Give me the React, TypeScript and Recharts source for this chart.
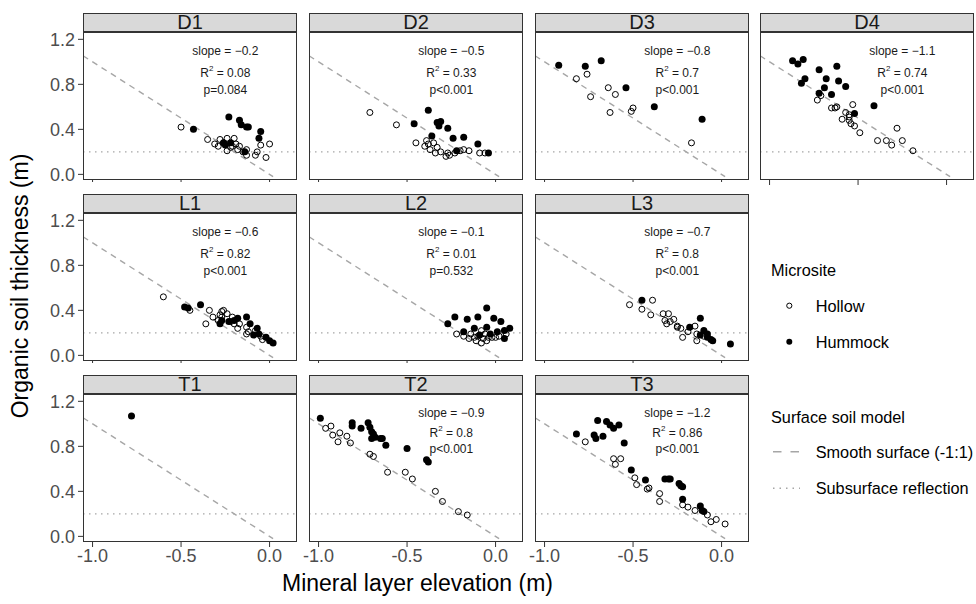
import React from 'react';
import { ScatterChart, Scatter, XAxis, YAxis, ReferenceLine } from 'recharts';

// ---------------- data ----------------
const panelNames = ['D1', 'D2', 'D3', 'D4', 'L1', 'L2', 'L3', 'T1', 'T2', 'T3'];
const slopes = ['−0.2', '−0.5', '−0.8', '−1.1', '−0.6', '−0.1', '−0.7', '', '−0.9', '−1.2'];
const rSquared = ['0.08', '0.33', '0.7', '0.74', '0.82', '0.01', '0.8', '', '0.8', '0.86'];
const pValues = ['p=0.084', 'p<0.001', 'p<0.001', 'p<0.001', 'p<0.001', 'p=0.532', 'p<0.001', '', 'p<0.001', 'p<0.001'];
const xTicks = [-1, -0.5, 0];
const yTicks = [0, 0.4, 0.8, 1.2];
const subsurfaceDepth = 0.2;

const d1Hollow = [[-0.5, 0.42], [-0.35, 0.31], [-0.31, 0.27], [-0.28, 0.31], [-0.24, 0.32], [-0.2, 0.32], [-0.26, 0.28], [-0.29, 0.25], [-0.22, 0.24], [-0.21, 0.25], [-0.19, 0.27], [-0.17, 0.25], [-0.24, 0.21], [-0.18, 0.22], [-0.15, 0.2], [-0.13, 0.22], [-0.07, 0.2], [-0.08, 0.17], [-0.05, 0.26], [0.0, 0.27], [-0.02, 0.15], [-0.13, 0.17]];
const d1Hummock = [[-0.43, 0.4], [-0.23, 0.51], [-0.17, 0.48], [-0.16, 0.44], [-0.13, 0.42], [-0.12, 0.42], [-0.05, 0.38], [-0.06, 0.32], [-0.26, 0.28], [-0.22, 0.28], [-0.14, 0.2], [-0.25, 0.26]];
const d2Hollow = [[-0.71, 0.55], [-0.56, 0.44], [-0.45, 0.28], [-0.39, 0.3], [-0.38, 0.27], [-0.4, 0.25], [-0.37, 0.22], [-0.33, 0.24], [-0.31, 0.2], [-0.28, 0.16], [-0.26, 0.17], [-0.23, 0.19], [-0.2, 0.21], [-0.18, 0.22], [-0.15, 0.21], [-0.09, 0.19], [-0.06, 0.19], [-0.35, 0.28], [-0.27, 0.19], [-0.34, 0.19]];
const d2Hummock = [[-0.46, 0.45], [-0.38, 0.57], [-0.33, 0.46], [-0.31, 0.47], [-0.32, 0.43], [-0.27, 0.41], [-0.36, 0.34], [-0.24, 0.32], [-0.18, 0.33], [-0.1, 0.27], [-0.04, 0.19], [-0.22, 0.21]];
const d3Hollow = [[-0.82, 0.85], [-0.76, 0.89], [-0.74, 0.69], [-0.64, 0.77], [-0.6, 0.71], [-0.63, 0.55], [-0.51, 0.56], [-0.5, 0.59], [-0.17, 0.28]];
const d3Hummock = [[-0.92, 0.97], [-0.77, 0.96], [-0.68, 1.01], [-0.54, 0.77], [-0.38, 0.6], [-0.11, 0.49]];
const d4Hollow = [[-0.73, 0.66], [-0.71, 0.7], [-0.65, 0.59], [-0.63, 0.59], [-0.62, 0.6], [-0.57, 0.55], [-0.55, 0.53], [-0.53, 0.62], [-0.59, 0.49], [-0.55, 0.48], [-0.54, 0.45], [-0.52, 0.43], [-0.49, 0.37], [-0.55, 0.51], [-0.39, 0.3], [-0.34, 0.3], [-0.31, 0.26], [-0.28, 0.41], [-0.25, 0.3], [-0.19, 0.21]];
const d4Hummock = [[-0.87, 1.01], [-0.84, 0.98], [-0.81, 1.02], [-0.72, 0.93], [-0.62, 0.96], [-0.68, 0.85], [-0.8, 0.85], [-0.82, 0.81], [-0.69, 0.77], [-0.61, 0.83], [-0.57, 0.78], [-0.65, 0.71], [-0.72, 0.72], [-0.41, 0.61], [-0.52, 0.54]];
const l1Hollow = [[-0.6, 0.52], [-0.45, 0.4], [-0.34, 0.4], [-0.36, 0.28], [-0.32, 0.34], [-0.28, 0.36], [-0.27, 0.39], [-0.26, 0.4], [-0.29, 0.31], [-0.22, 0.3], [-0.21, 0.34], [-0.2, 0.28], [-0.18, 0.24], [-0.17, 0.28], [-0.13, 0.25], [-0.12, 0.21], [-0.13, 0.19], [-0.05, 0.17], [-0.04, 0.14], [-0.08, 0.22], [-0.27, 0.34], [-0.24, 0.37]];
const l1Hummock = [[-0.48, 0.43], [-0.46, 0.42], [-0.39, 0.45], [-0.18, 0.33], [-0.13, 0.34], [-0.23, 0.3], [-0.28, 0.28], [-0.27, 0.31], [-0.11, 0.28], [-0.07, 0.24], [-0.06, 0.19], [-0.09, 0.18], [-0.02, 0.16], [0.0, 0.13], [0.02, 0.11], [-0.2, 0.31]];
const l2Hollow = [[-0.22, 0.19], [-0.18, 0.17], [-0.15, 0.15], [-0.12, 0.16], [-0.1, 0.17], [-0.08, 0.22], [-0.07, 0.15], [-0.05, 0.13], [-0.02, 0.16], [0.0, 0.16], [-0.11, 0.13], [-0.08, 0.11], [0.02, 0.17], [0.06, 0.19], [-0.14, 0.19], [-0.06, 0.19], [-0.04, 0.16]];
const l2Hummock = [[-0.27, 0.28], [-0.23, 0.34], [-0.16, 0.32], [-0.1, 0.34], [-0.05, 0.42], [-0.12, 0.24], [-0.05, 0.25], [-0.01, 0.33], [0.03, 0.3], [0.05, 0.22], [0.08, 0.24], [0.01, 0.21], [0.05, 0.15], [-0.18, 0.21], [-0.09, 0.18], [-0.03, 0.19]];
const l3Hollow = [[-0.52, 0.45], [-0.45, 0.41], [-0.39, 0.49], [-0.4, 0.36], [-0.33, 0.37], [-0.3, 0.37], [-0.32, 0.31], [-0.29, 0.3], [-0.27, 0.32], [-0.31, 0.28], [-0.25, 0.26], [-0.23, 0.24], [-0.22, 0.16], [-0.19, 0.21], [-0.15, 0.26], [-0.14, 0.19], [-0.14, 0.13], [-0.1, 0.17], [-0.25, 0.25]];
const l3Hummock = [[-0.45, 0.49], [-0.12, 0.33], [-0.18, 0.25], [-0.1, 0.22], [-0.12, 0.18], [-0.08, 0.16], [-0.06, 0.14], [-0.05, 0.13], [0.05, 0.1], [-0.08, 0.19]];
const t1Hollow: number[][] = [];
const t1Hummock = [[-0.78, 1.07]];
const t2Hollow = [[-0.96, 0.96], [-0.93, 0.98], [-0.92, 0.9], [-0.89, 0.84], [-0.88, 0.92], [-0.84, 0.89], [-0.82, 0.83], [-0.71, 0.73], [-0.69, 0.71], [-0.61, 0.57], [-0.51, 0.57], [-0.47, 0.51], [-0.34, 0.4], [-0.3, 0.31], [-0.21, 0.22], [-0.16, 0.19]];
const t2Hummock = [[-0.99, 1.05], [-0.81, 1.01], [-0.81, 0.98], [-0.76, 0.96], [-0.72, 1.01], [-0.71, 0.97], [-0.7, 0.93], [-0.7, 0.87], [-0.68, 0.88], [-0.65, 0.87], [-0.64, 0.87], [-0.62, 0.81], [-0.5, 0.78], [-0.39, 0.68], [-0.38, 0.66], [-0.69, 0.91]];
const t3Hollow = [[-0.77, 0.84], [-0.61, 0.69], [-0.57, 0.69], [-0.6, 0.64], [-0.49, 0.52], [-0.48, 0.46], [-0.42, 0.42], [-0.41, 0.43], [-0.35, 0.38], [-0.35, 0.31], [-0.22, 0.28], [-0.19, 0.26], [-0.15, 0.23], [-0.08, 0.19], [-0.06, 0.13], [-0.03, 0.15], [0.02, 0.11]];
const t3Hummock = [[-0.82, 0.91], [-0.72, 0.9], [-0.7, 1.03], [-0.71, 0.87], [-0.67, 0.89], [-0.65, 1.02], [-0.63, 0.99], [-0.61, 0.96], [-0.58, 0.99], [-0.55, 0.83], [-0.51, 0.59], [-0.43, 0.5], [-0.32, 0.51], [-0.29, 0.51], [-0.3, 0.51], [-0.24, 0.47], [-0.22, 0.44], [-0.23, 0.45], [-0.22, 0.33], [-0.12, 0.27], [-0.11, 0.23], [-0.1, 0.22]];

const hollowSets = [d1Hollow, d2Hollow, d3Hollow, d4Hollow, l1Hollow, l2Hollow, l3Hollow, t1Hollow, t2Hollow, t3Hollow];
const hummockSets = [d1Hummock, d2Hummock, d3Hummock, d4Hummock, l1Hummock, l2Hummock, l3Hummock, t1Hummock, t2Hummock, t3Hummock];

// ---------------- layout / style ----------------
const FONT = '"Liberation Sans", Arial, Helvetica, sans-serif';
const X_DOMAIN: [number, number] = [-1.054, 0.155];
const Y_DOMAIN: [number, number] = [-0.05, 1.265];
const COL_LEFT = [83, 309, 535, 760];
const ROW_TOP = [13, 194, 375];
const PW = 214;
const PH = 148;
const SH = 19;
const M = 12;
const BORDER = '#333333';
const GUIDE = '#A6A6A6';

const toPts = (a: number[][]) => a.map(([x, y]) => ({ x, y }));
const fmt = (v: number) => v.toFixed(1);

const HollowShape = (p: any) => (
  <circle cx={p.cx} cy={p.cy} r={3} fill="none" stroke="#000" strokeWidth={1} />
);
const HummockShape = (p: any) => <circle cx={p.cx} cy={p.cy} r={3.5} fill="#000" />;

const LabelShape = (p: any) => {
  const d = p.payload;
  const common = {
    x: p.cx,
    y: p.cy,
    textAnchor: 'middle' as const,
    dominantBaseline: 'central' as const,
    fontSize: 12,
    fontFamily: FONT,
    fill: '#1a1a1a',
  };
  if (d.kind === 'r2') {
    return (
      <text {...common}>
        <tspan>R</tspan>
        <tspan fontSize={8} dy={-5}>2</tspan>
        <tspan dy={5}>{' = ' + d.text}</tspan>
      </text>
    );
  }
  return <text {...common}>{d.text}</text>;
};

const EmptyTick = () => <g />;

function Panel({ idx }: { idx: number }) {
  const col = idx < 4 ? idx : (idx - 4) % 3;
  const row = idx < 4 ? 0 : idx < 7 ? 1 : 2;
  const isLeft = col === 0;
  const xMode = row === 2 ? 'full' : idx === 3 ? 'ticks' : 'mini';
  const YW = isLeft ? 60 : 0;
  const XH = xMode === 'full' ? 34 : xMode === 'ticks' ? 8 : 3;
  const left = COL_LEFT[col];
  const stripTop = ROW_TOP[row];
  const top = stripTop + SH;
  const lowRow = row === 2;
  const labels = slopes[idx]
    ? [
        { x: -0.25, y: lowRow ? 1.1 : 1.093, kind: 'slope', text: 'slope = ' + slopes[idx] },
        { x: -0.25, y: lowRow ? 0.922 : 0.9, kind: 'r2', text: rSquared[idx] },
        { x: -0.25, y: lowRow ? 0.78 : 0.746, kind: 'p', text: pValues[idx] },
      ]
    : [];
  return (
    <>
      <div
        style={{
          position: 'absolute',
          left,
          top: stripTop,
          width: PW,
          height: SH,
          boxSizing: 'border-box',
          border: `1px solid ${BORDER}`,
          background: '#D9D9D9',
          fontFamily: FONT,
          fontSize: 20,
          lineHeight: `${SH - 2}px`,
          textAlign: 'center',
          color: '#1A1A1A',
        }}
      >
        {panelNames[idx]}
      </div>
      <div style={{ position: 'absolute', left: left - YW - M, top: top - M }}>
        <ScatterChart
          width={PW + YW + 2 * M}
          height={PH + XH + 2 * M}
          margin={{ top: M, right: M, bottom: M, left: M }}
        >
          <XAxis
            type="number"
            dataKey="x"
            domain={X_DOMAIN}
            ticks={xTicks}
            allowDataOverflow
            interval={0}
            height={XH}
            axisLine={false}
            tickSize={xMode === 'mini' ? 2 : 5}
            tickLine={{ stroke: BORDER, strokeWidth: 1 }}
            tickMargin={2}
            tickFormatter={fmt}
            tick={xMode === 'full' ? { fill: '#4D4D4D', fontSize: 18, fontFamily: FONT } : EmptyTick}
          />
          <YAxis
            type="number"
            dataKey="y"
            domain={Y_DOMAIN}
            ticks={yTicks}
            allowDataOverflow
            interval={0}
            width={YW}
            hide={!isLeft}
            axisLine={false}
            tickSize={5}
            tickMargin={3}
            tickLine={{ stroke: BORDER, strokeWidth: 1 }}
            tickFormatter={fmt}
            tick={{ fill: '#4D4D4D', fontSize: 18, fontFamily: FONT }}
          />
          <ReferenceLine
            y={subsurfaceDepth}
            stroke={GUIDE}
            strokeWidth={1.4}
            strokeDasharray="1.5 4.5"
            ifOverflow="hidden"
          />
          <ReferenceLine
            segment={[
              { x: -1.054, y: 1.054 },
              { x: 0.02, y: -0.02 },
            ]}
            stroke={GUIDE}
            strokeWidth={1.4}
            strokeDasharray="6 5"
            ifOverflow="hidden"
          />
          <Scatter data={toPts(hollowSets[idx])} shape={HollowShape} isAnimationActive={false} />
          <Scatter data={toPts(hummockSets[idx])} shape={HummockShape} isAnimationActive={false} />
          {labels.length > 0 && <Scatter data={labels} shape={LabelShape} isAnimationActive={false} />}
        </ScatterChart>
      </div>
      <div
        style={{
          position: 'absolute',
          left,
          top,
          width: PW,
          height: PH,
          boxSizing: 'border-box',
          border: `1px solid ${BORDER}`,
          pointerEvents: 'none',
        }}
      />
    </>
  );
}

export default function App() {
  return (
    <div
      style={{
        position: 'absolute',
        left: 0,
        top: 0,
        width: 976,
        height: 604,
        background: '#fff',
        overflow: 'hidden',
      }}
    >
      {panelNames.map((_, i) => (
        <Panel key={i} idx={i} />
      ))}
      <svg
        width={976}
        height={604}
        style={{ position: 'absolute', left: 0, top: 0, pointerEvents: 'none' }}
        fontFamily={FONT}
      >
        <text x={417.5} y={591} textAnchor="middle" fontSize={23} fill="#000">
          Mineral layer elevation (m)
        </text>
        <text transform="translate(27.5,286) rotate(-90)" textAnchor="middle" fontSize={23} fill="#000">
          Organic soil thickness (m)
        </text>
        <text x={771} y={276} fontSize={16.3} fill="#000">Microsite</text>
        <circle cx={789.3} cy={305.7} r={2.6} fill="none" stroke="#000" strokeWidth={1} />
        <text x={815.7} y={311.7} fontSize={16.3} fill="#000">Hollow</text>
        <circle cx={789.3} cy={341.7} r={3} fill="#000" />
        <text x={815.7} y={347.7} fontSize={16.3} fill="#000">Hummock</text>
        <text x={771} y={422.7} fontSize={16.3} fill="#000">Surface soil model</text>
        <line x1={773} x2={800} y1={451.7} y2={451.7} stroke={GUIDE} strokeWidth={1.4} strokeDasharray="8.5 9" />
        <text x={815.7} y={458.3} fontSize={16.3} fill="#000">Smooth surface (-1:1)</text>
        <line x1={773} x2={800} y1={488.3} y2={488.3} stroke={GUIDE} strokeWidth={1.4} strokeDasharray="1.5 5" />
        <text x={815.7} y={494} fontSize={16.3} fill="#000">Subsurface reflection</text>
      </svg>
    </div>
  );
}
